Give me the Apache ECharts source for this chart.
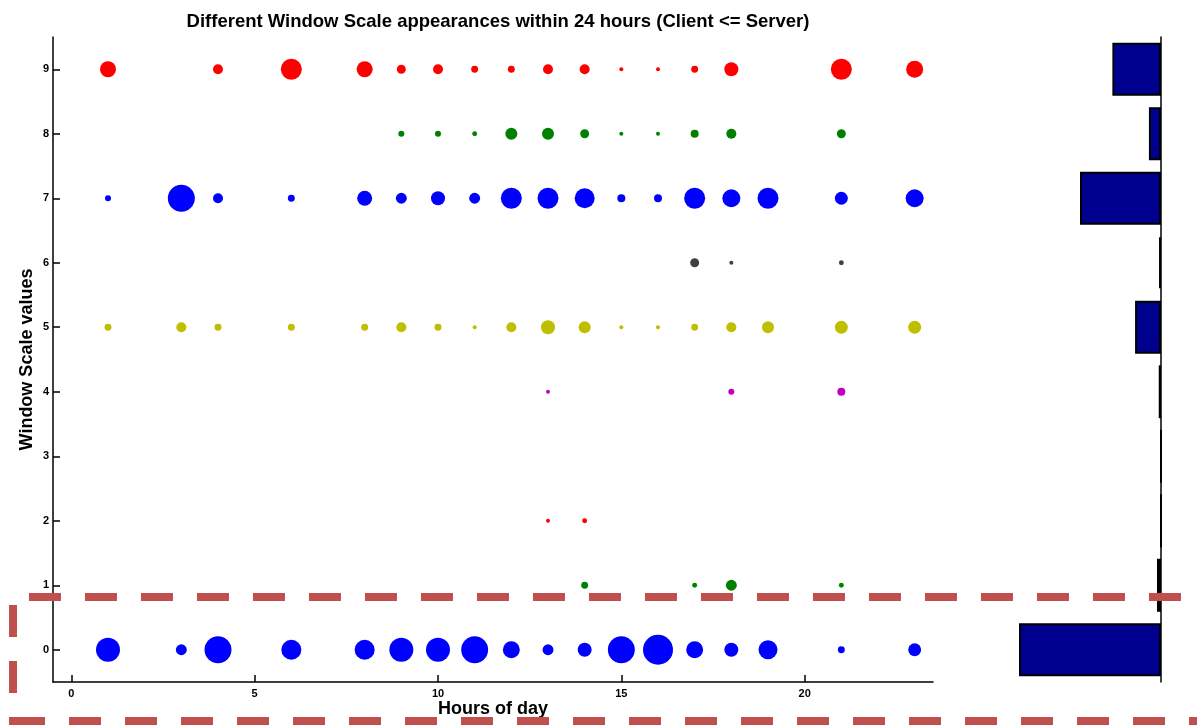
<!DOCTYPE html>
<html>
<head>
<meta charset="utf-8">
<script src="https://cdn.jsdelivr.net/npm/echarts@6/dist/echarts.min.js"></script>
<style>
  html, body { margin: 0; padding: 0; background: #ffffff; }
  #chart { width: 1197px; height: 725px; }
</style>
</head>
<body>
<div id="chart"></div>
<script>
// Hour-of-day ticks and window-scale ticks
const hourTicks = [0, 5, 10, 15, 20];
const scaleTicks = [0, 1, 2, 3, 4, 5, 6, 7, 8, 9];

// Appearances per hour, one pair of arrays per window scale value
const ws0Hours  = [1, 3, 4, 6, 8, 9, 10, 11, 12, 13, 14, 15, 16, 17, 18, 19, 21, 23];
const ws0Counts = [144, 30, 182, 100, 100, 144, 144, 182, 72, 30, 49, 182, 225, 72, 49, 90, 12, 42];

const ws1Hours  = [14, 17, 18, 21];
const ws1Counts = [12, 6, 30, 6];

const ws2Hours  = [13, 14];
const ws2Counts = [4, 6];

const ws4Hours  = [13, 18, 21];
const ws4Counts = [4, 9, 16];

const ws5Hours  = [1, 3, 4, 6, 8, 9, 10, 11, 12, 13, 14, 15, 16, 17, 18, 19, 21, 23];
const ws5Counts = [12, 25, 12, 12, 12, 25, 12, 4, 25, 49, 36, 4, 4, 12, 25, 36, 42, 42];

const ws6Hours  = [17, 18, 21];
const ws6Counts = [20, 4, 6];

const ws7Hours  = [1, 3, 4, 6, 8, 9, 10, 11, 12, 13, 14, 15, 16, 17, 18, 19, 21, 23];
const ws7Counts = [9, 182, 25, 12, 56, 30, 49, 30, 110, 110, 100, 16, 16, 110, 81, 110, 42, 81];

const ws8Hours  = [9, 10, 11, 12, 13, 14, 15, 16, 17, 18, 21];
const ws8Counts = [9, 9, 6, 36, 36, 20, 4, 4, 16, 25, 20];

const ws9Hours  = [1, 4, 6, 8, 9, 10, 11, 12, 13, 14, 15, 16, 17, 18, 21, 23];
const ws9Counts = [64, 25, 110, 64, 20, 25, 12, 12, 25, 25, 4, 4, 12, 49, 110, 72];

// Overall share of each window scale value (0..9), drawn as side histogram
const scaleTotals = [882, 25, 0, 0, 14, 161, 12, 503, 75, 302];

// MATLAB-style line colour order
const rowColors = {
  0: '#0000ff', 1: '#008000', 2: '#ff0000', 4: '#bf00bf',
  5: '#bfbf00', 6: '#404040', 7: '#0000ff', 8: '#008000', 9: '#ff0000'
};

const rows = [
  [0, ws0Hours, ws0Counts], [1, ws1Hours, ws1Counts], [2, ws2Hours, ws2Counts],
  [4, ws4Hours, ws4Counts], [5, ws5Hours, ws5Counts], [6, ws6Hours, ws6Counts],
  [7, ws7Hours, ws7Counts], [8, ws8Hours, ws8Counts], [9, ws9Hours, ws9Counts]
];

const axisBlack = { color: '#000000', width: 1.5 };
const tickFont = { color: '#000000', fontFamily: 'Liberation Sans', fontWeight: 'bold', fontSize: 11 };
const nameFont = { color: '#000000', fontFamily: 'Liberation Sans', fontWeight: 'bold', fontSize: 18 };

const scatterSeries = rows.map(([ws, hrs, cnt]) => ({
  type: 'scatter',
  xAxisIndex: 0,
  yAxisIndex: 0,
  symbol: 'circle',
  symbolSize: v => 2 * Math.sqrt(v[2]),
  itemStyle: { color: rowColors[ws], opacity: 1 },
  emphasis: { disabled: true },
  data: hrs.map((h, i) => [h, ws, cnt[i]])
}));

const chart = echarts.init(document.getElementById('chart'), null, { renderer: 'canvas' });

chart.setOption({
  animation: false,
  backgroundColor: '#ffffff',
  title: {
    text: 'Different Window Scale appearances within 24 hours (Client <= Server)',
    left: 493,
    top: 7,
    textAlign: 'center',
    textStyle: { color: '#000000', fontFamily: 'Liberation Sans', fontWeight: 'bold', fontSize: 18.5 }
  },
  grid: [
    { left: 53, right: 264, top: 37, bottom: 43, outerBoundsMode: 'none', containLabel: false },
    { left: 1000, right: 36, top: 37, bottom: 43, outerBoundsMode: 'none', containLabel: false }
  ],
  xAxis: [
    {
      gridIndex: 0,
      type: 'value',
      min: -0.5,
      max: 23.5,
      name: 'Hours of day',
      nameLocation: 'middle',
      nameGap: 18,
      nameMoveOverlap: false,
      nameTextStyle: nameFont,
      axisLine: { show: true, onZero: false, lineStyle: axisBlack },
      axisTick: { show: true, inside: true, length: 7, customValues: hourTicks, lineStyle: axisBlack },
      axisLabel: { show: true, margin: 6, customValues: hourTicks, ...tickFont },
      splitLine: { show: false }
    },
    {
      gridIndex: 1,
      type: 'value',
      min: 0,
      max: 1000,
      inverse: true,
      show: false
    }
  ],
  yAxis: [
    {
      gridIndex: 0,
      type: 'value',
      min: -0.5,
      max: 9.5,
      name: 'Window Scale values',
      nameLocation: 'middle',
      nameGap: 17,
      nameMoveOverlap: false,
      nameTextStyle: nameFont,
      axisLine: { show: true, onZero: false, lineStyle: axisBlack },
      axisTick: { show: true, inside: true, length: 7, customValues: scaleTicks, lineStyle: axisBlack },
      axisLabel: { show: true, margin: 4, customValues: scaleTicks, ...tickFont },
      splitLine: { show: false }
    },
    {
      gridIndex: 1,
      type: 'category',
      position: 'right',
      data: scaleTicks.map(String),
      axisLine: { show: true, onZero: false, lineStyle: { color: '#000000', width: 1.5 } },
      axisTick: { show: false },
      axisLabel: { show: false },
      splitLine: { show: false }
    }
  ],
  series: [
    ...scatterSeries,
    {
      type: 'bar',
      xAxisIndex: 1,
      yAxisIndex: 1,
      barWidth: '82%',
      itemStyle: { color: '#00008f', borderColor: '#000000', borderWidth: 2 },
      emphasis: { disabled: true },
      data: scaleTotals
    }
  ],
  graphic: [
    {
      type: 'line', z: 100,
      shape: { x1: 29, y1: 597, x2: 1181, y2: 597 },
      style: { stroke: '#c0504d', lineWidth: 8, lineDash: [32, 24] }
    },
    {
      type: 'line', z: 100,
      shape: { x1: 13, y1: 605, x2: 13, y2: 725 },
      style: { stroke: '#c0504d', lineWidth: 8, lineDash: [32, 24] }
    },
    {
      type: 'line', z: 100,
      shape: { x1: 13, y1: 721, x2: 1197, y2: 721 },
      style: { stroke: '#c0504d', lineWidth: 8, lineDash: [32, 24] }
    }
  ]
});
</script>
</body>
</html>
